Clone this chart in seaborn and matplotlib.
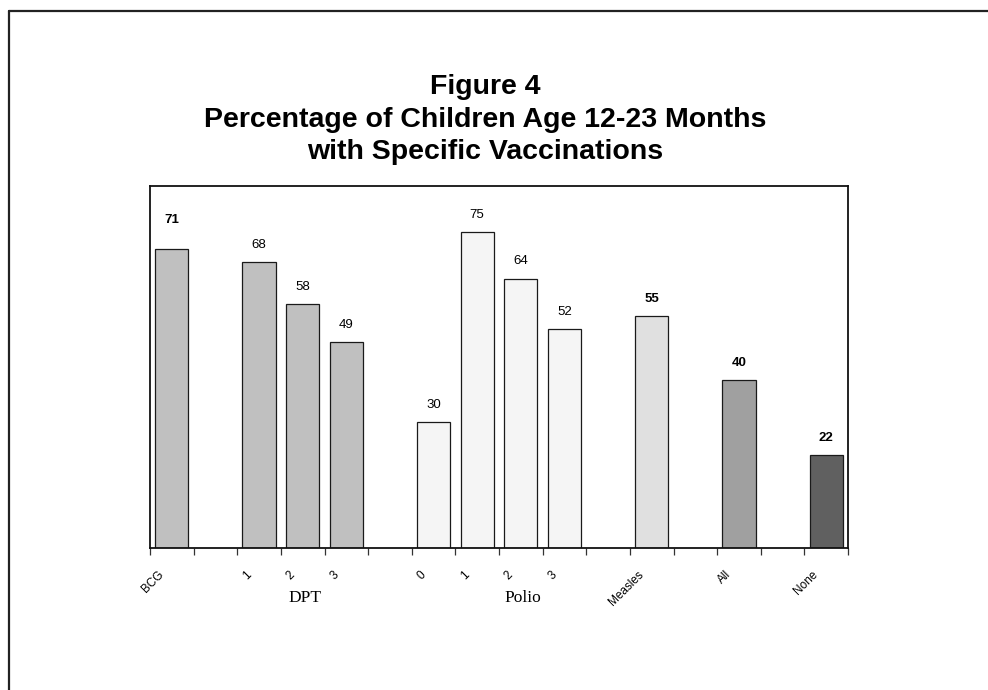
import numpy as np
import pandas as pd
import matplotlib
matplotlib.use('Agg')
import matplotlib.pyplot as plt
import matplotlib.transforms as mtransforms
from matplotlib.lines import Line2D
import seaborn as sns

# slots on the x axis, gap slots keep the empty spaces between groups
slots = ['BCG', 'gap1', 'DPT 1', 'DPT 2', 'DPT 3', 'gap2',
         'Polio 0', 'Polio 1', 'Polio 2', 'Polio 3', 'gap3',
         'Measles', 'gap4', 'All', 'gap5', 'None']
tick_labels = ['BCG', '', '1', '2', '3', '', '0', '1', '2', '3', '',
               'Measles', '', 'All', '', 'None']

bar_slots = ['BCG', 'DPT 1', 'DPT 2', 'DPT 3', 'Polio 0', 'Polio 1',
             'Polio 2', 'Polio 3', 'Measles', 'All', 'None']
pct = [71, 68, 58, 49, 30, 75, 64, 52, 55, 40, 22]

groups = {'DPT': 'DPT 2', 'Polio': 'Polio 2'}

bar_colors = {'BCG': '#c0c0c0', 'DPT 1': '#c0c0c0', 'DPT 2': '#c0c0c0', 'DPT 3': '#c0c0c0',
              'Polio 0': '#f5f5f5', 'Polio 1': '#f5f5f5', 'Polio 2': '#f5f5f5', 'Polio 3': '#f5f5f5',
              'Measles': '#e0e0e0', 'All': '#a0a0a0', 'None': '#606060'}
bold_labels = {'BCG', 'Measles', 'All', 'None'}

sns.set_style('white')
plt.rcParams['font.family'] = ['Liberation Sans', 'DejaVu Sans']
plt.rcParams['text.color'] = 'black'
plt.rcParams['xtick.color'] = 'black'
plt.rcParams['axes.labelcolor'] = 'black'

df = pd.DataFrame({'slot': bar_slots, 'pct': pct})

fig = plt.figure(figsize=(9.88, 6.9), dpi=100)
ax = fig.add_axes([150/988, 142/690, 698/988, 362/690])

sns.barplot(data=df, x='slot', y='pct', order=slots, hue='slot', hue_order=bar_slots,
            palette=bar_colors, width=0.76, edgecolor='#1a1a1a', linewidth=0.9,
            legend=False, ax=ax)

ax.set_ylim(0, 86)
ax.set_xlim(-0.5, len(slots) - 0.5)
ax.set_yticks([])
ax.set_xlabel('')
ax.set_ylabel('')

for s in ax.spines.values():
    s.set_visible(True)
    s.set_color('#111111')
    s.set_linewidth(1.3)

# tick marks between the categories, labels at the centres
ax.set_xticks(np.arange(-0.5, len(slots), 1))
ax.set_xticklabels([])
ax.tick_params(axis='x', which='major', direction='out', length=5, width=0.9,
               color='#333333', bottom=True)
ax.set_xticks(np.arange(len(slots)), minor=True)
ax.set_xticklabels(tick_labels, minor=True, rotation=45, ha='right',
                   rotation_mode='anchor', fontsize=8.5)
ax.tick_params(axis='x', which='minor', length=0, pad=15)
shift = mtransforms.ScaledTranslation(-0.14, 0, fig.dpi_scale_trans)
for lab in ax.get_xticklabels(minor=True):
    lab.set_transform(lab.get_transform() + shift)

# value labels
for name, v in zip(bar_slots, pct):
    i = slots.index(name)
    bold = name in bold_labels
    off = 17 if name == 'BCG' else 8
    ax.annotate(str(v), (i, v), xytext=(0, off), textcoords='offset points',
                ha='center', va='bottom', fontsize=9.5,
                fontweight='bold' if bold else 'normal')

# group names under the tick labels
for g, s in groups.items():
    ax.text(slots.index(s) + 0.05, -0.138, g, transform=ax.get_xaxis_transform(),
            ha='center', va='center', fontsize=12.5, family='Liberation Serif')

fig.text(485/988, 1 - 74/690,
         'Figure 4\nPercentage of Children Age 12-23 Months\nwith Specific Vaccinations',
         ha='center', va='top', fontsize=20.5, fontweight='bold', linespacing=1.33)

# outer frame (only top and left edges are in view)
fig.add_artist(Line2D([9/988, 9/988], [0, 1 - 11/690], color='#222222', linewidth=1.6))
fig.add_artist(Line2D([9/988, 1], [1 - 11/690, 1 - 11/690], color='#222222', linewidth=1.6))

fig.savefig('out.png', dpi=100)
